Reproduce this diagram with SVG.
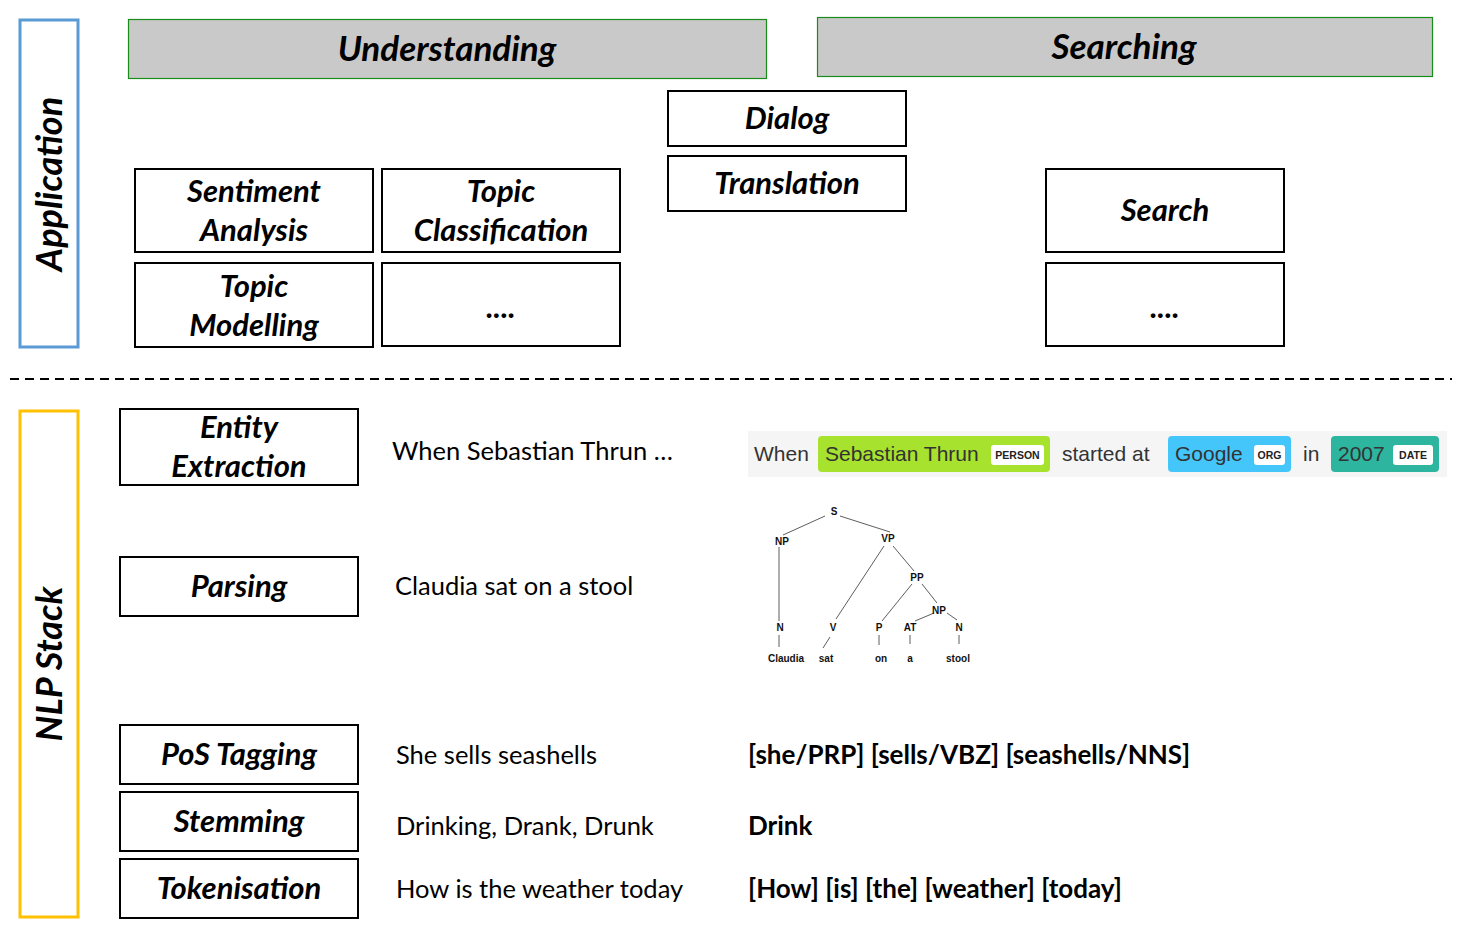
<svg xmlns="http://www.w3.org/2000/svg" width="1465" height="930" viewBox="0 0 1465 930">
<style>
.box{fill:#fff;stroke:#000;stroke-width:2}
.hdr{fill:#C9C9C9;stroke:#1a8c1a;stroke-width:1.2}
.lbl{font-family:"Lato","Liberation Sans",sans-serif;font-weight:bold;font-style:italic;font-size:31px;fill:#000;text-anchor:middle}
.big{font-size:35px}
.side{font-size:36px}
.ex{font-family:"Lato","Liberation Sans",sans-serif;font-size:25.5px;fill:#000}
.exb{font-family:"Lato","Liberation Sans",sans-serif;font-size:26px;font-weight:bold;fill:#000}
.ent{font-family:"Liberation Sans",sans-serif;font-size:21px;fill:#333}
.tag{font-family:"Liberation Sans",sans-serif;font-size:10.5px;font-weight:bold;fill:#222;text-anchor:middle}
.tl{font-family:"Liberation Sans",sans-serif;font-size:10px;font-weight:bold;fill:#111;text-anchor:middle}
.tr{stroke:#333;stroke-width:0.8;fill:none}
</style>
<rect width="1465" height="930" fill="#fff"/>

<g id="application">
<rect x="20" y="20" width="58" height="327" fill="none" stroke="#5B9BD5" stroke-width="3"/>
<text class="lbl side" transform="translate(62,184) rotate(-90)">Application</text>
</g>
<g id="understanding">
<rect class="hdr" x="128.5" y="19.5" width="638" height="59"/>
<text class="lbl big" x="447" y="61">Understanding</text>
</g>
<g id="searching">
<rect class="hdr" x="817.5" y="17.5" width="615" height="59"/>
<text class="lbl big" x="1124" y="59">Searching</text>
</g>
<g id="dialog">
<rect class="box" x="668" y="91" width="238" height="55"/>
<text class="lbl" x="787" y="129">Dialog</text>
</g>
<g id="translation">
<rect class="box" x="668" y="156" width="238" height="55"/>
<text class="lbl" x="787" y="194">Translation</text>
</g>
<g id="sentiment">
<rect class="box" x="135" y="169" width="238" height="83"/>
<text class="lbl" x="254" y="202">Sentiment</text>
<text class="lbl" x="254" y="241">Analysis</text>
</g>
<g id="topic-classification">
<rect class="box" x="382" y="169" width="238" height="83"/>
<text class="lbl" x="501" y="202">Topic</text>
<text class="lbl" x="501" y="241">Classification</text>
</g>
<g id="topic-modelling">
<rect class="box" x="135" y="263" width="238" height="84"/>
<text class="lbl" x="254" y="297">Topic</text>
<text class="lbl" x="254" y="336">Modelling</text>
</g>
<g id="understanding-more">
<rect class="box" x="382" y="263" width="238" height="83"/>
<text class="lbl" x="501" y="318">....</text>
</g>
<g id="search">
<rect class="box" x="1046" y="169" width="238" height="83"/>
<text class="lbl" x="1165" y="221">Search</text>
</g>
<g id="search-more">
<rect class="box" x="1046" y="263" width="238" height="83"/>
<text class="lbl" x="1165" y="318">....</text>
</g>

<line x1="10" y1="379" x2="1452" y2="379" stroke="#000" stroke-width="2" stroke-dasharray="9,6"/>

<g id="nlp-stack">
<rect x="20" y="411" width="58" height="506" fill="none" stroke="#FFC000" stroke-width="3"/>
<text class="lbl side" transform="translate(62,664) rotate(-90)">NLP Stack</text>
</g>
<g id="entity-extraction">
<rect class="box" x="120" y="409" width="238" height="76"/>
<text class="lbl" x="239" y="438">Entity</text>
<text class="lbl" x="239" y="477">Extraction</text>
</g>
<g id="parsing">
<rect class="box" x="120" y="557" width="238" height="59"/>
<text class="lbl" x="239" y="597">Parsing</text>
</g>
<g id="pos-tagging">
<rect class="box" x="120" y="725" width="238" height="59"/>
<text class="lbl" x="239" y="765">PoS Tagging</text>
</g>
<g id="stemming">
<rect class="box" x="120" y="792" width="238" height="59"/>
<text class="lbl" x="239" y="832">Stemming</text>
</g>
<g id="tokenisation">
<rect class="box" x="120" y="859" width="238" height="59"/>
<text class="lbl" x="239" y="899">Tokenisation</text>
</g>

<g id="examples">
<text class="ex" x="392" y="460">When Sebastian Thrun …</text>
<text class="ex" x="395" y="595">Claudia sat on a stool</text>
<text class="ex" x="396" y="764">She sells seashells</text>
<text class="ex" x="396" y="835">Drinking, Drank, Drunk</text>
<text class="ex" x="396" y="898">How is the weather today</text>
<text class="exb" x="748" y="764">[she/PRP] [sells/VBZ] [seashells/NNS]</text>
<text class="exb" x="748" y="835">Drink</text>
<text class="exb" x="748" y="898">[How] [is] [the] [weather] [today]</text>
</g>

<g id="entity-visual">
<rect x="748" y="431" width="699" height="46" fill="#F5F5F5"/>
<text class="ent" x="754" y="461">When</text>
<rect x="818" y="436" width="232" height="36" rx="4" fill="#A6E22E"/>
<text class="ent" x="825" y="461" fill="#111">Sebastian Thrun</text>
<rect x="991" y="445" width="53" height="20" rx="3" fill="#fff"/>
<text class="tag" x="1017.5" y="459">PERSON</text>
<text class="ent" x="1062" y="461">started at</text>
<rect x="1168" y="436" width="123" height="36" rx="4" fill="#45C6FB"/>
<text class="ent" x="1175" y="461" fill="#111">Google</text>
<rect x="1254" y="445" width="31" height="20" rx="3" fill="#fff"/>
<text class="tag" x="1269.5" y="459">ORG</text>
<text class="ent" x="1303" y="461">in</text>
<rect x="1331" y="436" width="108" height="36" rx="4" fill="#2DB5A0"/>
<text class="ent" x="1338" y="461" fill="#111">2007</text>
<rect x="1393" y="445" width="40" height="20" rx="3" fill="#fff"/>
<text class="tag" x="1413" y="459">DATE</text>
</g>

<g id="parse-tree">
<g class="tr">
<line x1="825" y1="516" x2="783" y2="535"/>
<line x1="840" y1="516" x2="890" y2="532"/>
<line x1="779" y1="547" x2="779" y2="621"/>
<line x1="884" y1="546" x2="836" y2="619"/>
<line x1="830" y1="637" x2="823" y2="648"/>
<line x1="893" y1="546" x2="914" y2="571"/>
<line x1="912" y1="584" x2="882" y2="621"/>
<line x1="922" y1="584" x2="937" y2="603"/>
<line x1="934" y1="613" x2="915" y2="621"/>
<line x1="947" y1="613" x2="957" y2="620"/>
<line x1="779" y1="635" x2="779" y2="647"/>
<line x1="879" y1="635" x2="879" y2="645"/>
<line x1="910" y1="635" x2="910" y2="644"/>
<line x1="959" y1="635" x2="959" y2="644"/>
</g>
<text class="tl" x="834" y="515">S</text>
<text class="tl" x="782" y="545">NP</text>
<text class="tl" x="888" y="542">VP</text>
<text class="tl" x="917" y="581">PP</text>
<text class="tl" x="939" y="614">NP</text>
<text class="tl" x="780" y="631">N</text>
<text class="tl" x="833" y="631">V</text>
<text class="tl" x="879" y="631">P</text>
<text class="tl" x="910" y="631">AT</text>
<text class="tl" x="959" y="631">N</text>
<text class="tl" x="786" y="662">Claudia</text>
<text class="tl" x="826" y="662">sat</text>
<text class="tl" x="881" y="662">on</text>
<text class="tl" x="910" y="662">a</text>
<text class="tl" x="958" y="662">stool</text>
</g>
</svg>
